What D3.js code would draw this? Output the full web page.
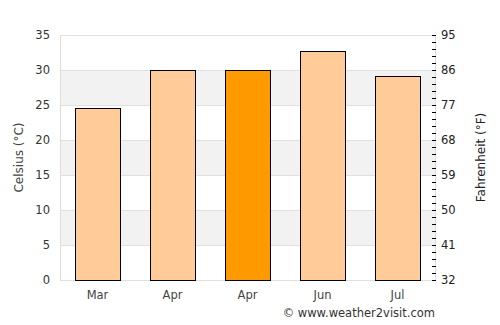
<!DOCTYPE html>
<html>
<head>
<meta charset="utf-8">
<script src="https://cdn.jsdelivr.net/npm/d3@7"></script>
<style>
  body { margin: 0; background: #fff; }
  text { font-family: "DejaVu Sans", sans-serif; }
</style>
</head>
<body>
<div class="content"></div>
<script>
// DATA
var months = ['Mar', 'Apr', 'Apr', 'Jun', 'Jul'];
var temps = [24.6, 30, 30, 32.7, 29.1];
var highlight = [false, false, true, false, false];
var celsiusTicks = [0, 5, 10, 15, 20, 25, 30, 35];
var fahrenheitTicks = [32, 41, 50, 59, 68, 77, 86, 95];

// VARIABLES
var w = 500, h = 325,
    m = {top: 35, right: 65, bottom: 45, left: 60},
    iw = w - m.left - m.right,
    ih = h - m.top - m.bottom;

var svg = d3.select('.content').append('svg')
    .attr('width', w)
    .attr('height', h);

var g = svg.append('g').attr('transform', 'translate(' + m.left + ',' + m.top + ')');

// SCALES
var x = d3.scaleBand().domain(d3.range(months.length)).range([0, iw]).paddingInner(0.4).paddingOuter(0.2);
var y = d3.scaleLinear().domain([0, 35]).range([ih, 0]);
var yf = d3.scaleLinear().domain([32, 95]).range([ih, 0]);

// GRID BANDS
var bands = [[5, 10], [15, 20], [25, 30]];
g.selectAll('.band').data(bands).enter().append('rect')
    .attr('x', 0).attr('width', iw)
    .attr('y', function(d) { return y(d[1]); })
    .attr('height', function(d) { return y(d[0]) - y(d[1]); })
    .attr('fill', '#f2f2f2');

g.selectAll('.grid').data(celsiusTicks).enter().append('line')
    .attr('x1', 0).attr('x2', iw)
    .attr('y1', function(d) { return Math.round(y(d)) + 0.5; })
    .attr('y2', function(d) { return Math.round(y(d)) + 0.5; })
    .attr('stroke', '#e0e0e0');

// frame
g.append('line').attr('x1', 0.5).attr('x2', 0.5).attr('y1', 0).attr('y2', ih).attr('stroke', '#dcdcdc');
g.append('line').attr('x1', iw + 0.5).attr('x2', iw + 0.5).attr('y1', 0).attr('y2', ih).attr('stroke', '#dcdcdc');

// BARS
g.selectAll('.bar').data(temps).enter().append('rect')
    .attr('x', function(d, i) { return Math.round(x(i)) + 0.5; })
    .attr('width', x.bandwidth())
    .attr('y', function(d) { return Math.round(y(d)) + 0.5; })
    .attr('height', function(d) { return ih - Math.round(y(d)); })
    .attr('fill', function(d, i) { return highlight[i] ? '#ff9900' : '#ffcc99'; })
    .attr('stroke', '#000')
    .attr('stroke-width', 1);

// LEFT AXIS LABELS
g.selectAll('.yl').data(celsiusTicks).enter().append('text')
    .attr('x', -10).attr('y', function(d) { return y(d); })
    .attr('dy', '0.35em')
    .attr('text-anchor', 'end')
    .attr('font-size', 11.5)
    .attr('fill', '#333')
    .text(function(d) { return d; });

// RIGHT AXIS: minor ticks each 1°C, labels in °F
g.selectAll('.rt').data(d3.range(0, 36)).enter().append('line')
    .attr('x1', iw - 3).attr('x2', iw + 1)
    .attr('y1', function(d) { return Math.round(y(d)) + 0.5; })
    .attr('y2', function(d) { return Math.round(y(d)) + 0.5; })
    .attr('stroke', '#000');

g.selectAll('.yr').data(fahrenheitTicks).enter().append('text')
    .attr('x', iw + 6).attr('y', function(d) { return yf(d); })
    .attr('dy', '0.35em')
    .attr('font-size', 11.5)
    .attr('fill', '#222')
    .text(function(d) { return d; });

// X LABELS
g.selectAll('.xl').data(months).enter().append('text')
    .attr('x', function(d, i) { return x(i) + x.bandwidth() / 2; })
    .attr('y', ih + 19)
    .attr('text-anchor', 'middle')
    .attr('font-size', 11.5)
    .attr('fill', '#444')
    .text(function(d) { return d; });

// AXIS TITLES
svg.append('text')
    .attr('transform', 'translate(23,' + (m.top + ih / 2) + ') rotate(-90)')
    .attr('text-anchor', 'middle')
    .attr('font-size', 12)
    .attr('fill', '#444')
    .text('Celsius (°C)');

svg.append('text')
    .attr('transform', 'translate(485,' + (m.top + ih / 2) + ') rotate(-90)')
    .attr('text-anchor', 'middle')
    .attr('font-size', 12)
    .attr('fill', '#222')
    .text('Fahrenheit (°F)');

svg.append('text')
    .attr('x', m.left + iw).attr('y', 317)
    .attr('text-anchor', 'end')
    .attr('font-size', 11.5)
    .attr('fill', '#333')
    .text('© www.weather2visit.com');
</script>
</body>
</html>
